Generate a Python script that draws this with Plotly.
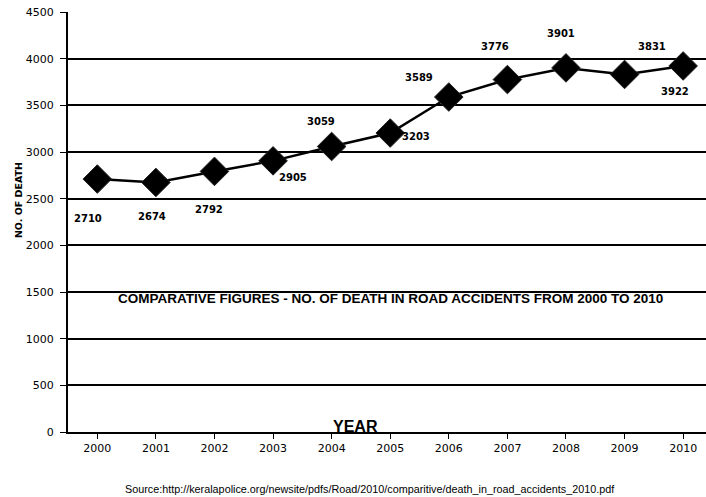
import plotly.graph_objects as go

# Road accident deaths per year
years = ["2000", "2001", "2002", "2003", "2004", "2005",
         "2006", "2007", "2008", "2009", "2010"]
deaths = [2710, 2674, 2792, 2905, 3059, 3203, 3589, 3776, 3901, 3831, 3922]

# label offsets (pixels) relative to each point
label_dx = [-9, -4, -5, 20, -11, 26, -30, -12, -5, 27, -8]
label_dy = [-39, -34, -38, -17, 25, -3, 20, 33, 34, 28, -26]

y_ticks = [0, 500, 1000, 1500, 2000, 2500, 3000, 3500, 4000, 4500]

FONT = "Liberation Sans, Arial, sans-serif"
WIDE = "DejaVu Sans, Verdana, sans-serif"

fig = go.Figure()
fig.add_trace(go.Scatter(
    x=list(range(len(years))), y=deaths,
    mode="lines+markers",
    line=dict(color="black", width=2.5),
    marker=dict(symbol="diamond", size=22, color="black",
                line=dict(color="#222", width=1)),
    showlegend=False, hoverinfo="skip",
))

for i, (v, dx, dy) in enumerate(zip(deaths, label_dx, label_dy)):
    fig.add_annotation(x=i, y=v, text=f"<b>{v}</b>", showarrow=False,
                       xshift=dx, yshift=dy,
                       xanchor="center", yanchor="middle",
                       font=dict(family=WIDE, size=10, color="black"))

fig.add_annotation(xref="paper", yref="paper", x=0.506, y=0.319,
                   xanchor="center", yanchor="middle",
                   text="<b>COMPARATIVE FIGURES - NO. OF DEATH IN ROAD ACCIDENTS FROM 2000 TO 2010</b>",
                   showarrow=False, font=dict(family=FONT, size=13.5, color="black"))

fig.add_annotation(xref="paper", yref="paper", x=0.45, y=0.012,
                   xanchor="center", yanchor="middle",
                   text="<b>YEAR</b>", showarrow=False,
                   font=dict(family=FONT, size=16, color="black"))

fig.add_annotation(xref="paper", yref="paper", x=-0.0785, y=0.552,
                   xanchor="center", yanchor="middle",
                   text="<b>NO. OF DEATH</b>", textangle=-90, showarrow=False,
                   font=dict(family=WIDE, size=9.5, color="black"))

fig.add_annotation(xref="paper", yref="paper", x=0.473, y=-0.116,
                   xanchor="center", yanchor="top",
                   text="<span style='color:black'>Source:http</span>"
                        "<span style='color:black'>://keralapolice.org/newsite/pdfs/Road/2010/comparitive/death_in_road_accidents_2010.pdf</span>",
                   showarrow=False,
                   font=dict(family=FONT, size=10.8, color="black"))

fig.update_xaxes(
    tickmode="array", tickvals=list(range(len(years))), ticktext=years,
    range=[-0.5, 10.39],
    showgrid=False, zeroline=False,
    showline=True, linecolor="black", linewidth=2,
    ticks="outside", ticklen=5, tickcolor="black", tickwidth=1,
    tickfont=dict(family=WIDE, size=11, color="black"),
)
fig.update_yaxes(
    tickmode="array", tickvals=y_ticks,
    range=[0, 4500],
    showgrid=True, gridcolor="black", gridwidth=2,
    zeroline=False,
    showline=True, linecolor="black", linewidth=2,
    ticks="outside", ticklen=6, tickcolor="black", tickwidth=1,
    ticklabelstandoff=4,
    tickfont=dict(family=WIDE, size=11, color="black"),
)

fig.update_layout(
    width=706, height=497,
    margin=dict(l=68, r=0, t=12, b=65),
    paper_bgcolor="white", plot_bgcolor="white",
)

fig.write_html("out.html")
